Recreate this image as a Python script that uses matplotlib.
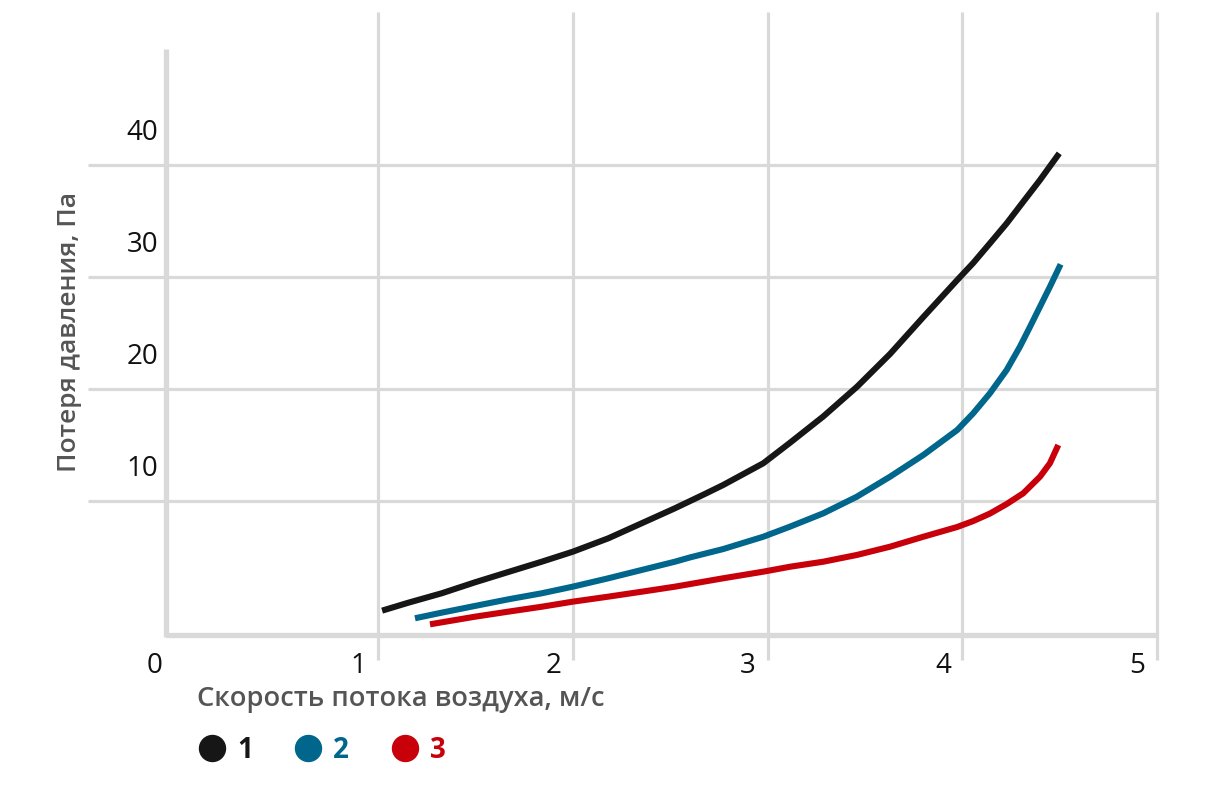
import matplotlib
matplotlib.use("Agg")
import matplotlib.pyplot as plt
from matplotlib.lines import Line2D

# ============================ #
# Data   #
# ============================ #
x_ticks = [1, 2, 3, 4, 5]
y_ticks = [10, 20, 30, 40]

speed_1 = [1.020, 1.155, 1.326, 1.497, 1.668, 1.840, 1.999, 2.182, 2.353, 2.524,
           2.678, 2.772, 2.978, 3.115, 3.286, 3.458, 3.629, 3.800, 3.974, 4.056,
           4.142, 4.228, 4.313, 4.399, 4.498]
loss_1 = [0.21, 0.92, 1.76, 2.74, 3.66, 4.58, 5.47, 6.67, 8.01, 9.35,
          10.63, 11.43, 13.37, 15.2, 17.55, 20.18, 23.13, 26.43, 29.73, 31.25,
          33.01, 34.79, 36.72, 38.66, 41.04]

speed_2 = [1.189, 1.326, 1.497, 1.668, 1.840, 1.999, 2.182, 2.353, 2.524, 2.601,
           2.772, 2.978, 3.115, 3.286, 3.458, 3.629, 3.800, 3.974, 4.056, 4.142,
           4.228, 4.296, 4.348, 4.399, 4.450, 4.505]
loss_2 = [-0.47, 0.03, 0.63, 1.22, 1.76, 2.35, 3.10, 3.84, 4.58, 4.96,
          5.71, 6.81, 7.71, 8.90, 10.38, 12.17, 14.11, 16.34, 17.83, 19.62,
          21.70, 23.78, 25.56, 27.35, 29.13, 31.13]

speed_3 = [1.266, 1.497, 1.668, 1.840, 1.999, 2.182, 2.353, 2.524, 2.772, 2.978,
           3.115, 3.286, 3.458, 3.629, 3.800, 3.974, 4.056, 4.142, 4.228, 4.313,
           4.399, 4.450, 4.493]
loss_3 = [-1.01, -0.33, 0.12, 0.56, 1.01, 1.46, 1.90, 2.35, 3.10, 3.69,
          4.13, 4.58, 5.18, 5.92, 6.81, 7.68, 8.21, 8.88, 9.73, 10.69,
          12.17, 13.37, 15.0]

series_names = ["1", "2", "3"]
series_colors = ["#161616", "#00668c", "#c8000a"]

GRID = "#d9d9d9"
LABEL_GRAY = "#555555"

plt.rcParams["font.family"] = ["Open Sans", "DejaVu Sans"]

W, H, DPI = 1213, 801, 100
fig = plt.figure(figsize=(W / DPI, H / DPI), dpi=DPI)
ax = fig.add_axes([0, 0, 1, 1])
ax.set_axis_off()

# pixel -> data mapping (x: 194.7 px per unit, 3 at px 767.6; y: 11.2 px per unit, 0 at px 613)
px_per_x, x3_px = 194.7, 767.6
px_per_y, y0_px = 11.2, 613.0
ax.set_xlim(3 - x3_px / px_per_x, 3 + (W - x3_px) / px_per_x)
ax.set_ylim((y0_px - H) / px_per_y, y0_px / px_per_y)

x_left = -0.09     # left axis line
y_bottom = -1.96   # bottom axis line

# vertical grid lines
for xv in x_ticks:
    ax.plot([xv, xv], [-4.2, 53.7], color=GRID, lw=2.3, solid_capstyle="butt", zorder=1)
# horizontal grid lines
for yv in y_ticks:
    ax.plot([-0.49, 5.0], [yv, yv], color=GRID, lw=2.3, solid_capstyle="butt", zorder=1)
# axis lines
ax.plot([x_left, x_left], [-2.1, 50.4], color=GRID, lw=3.8, solid_capstyle="butt", zorder=2)
ax.plot([x_left, 5.0], [y_bottom, y_bottom], color=GRID, lw=3.8, solid_capstyle="butt", zorder=2)

# curves
for xs, ys, c in [(speed_1, loss_1, series_colors[0]),
                  (speed_2, loss_2, series_colors[1]),
                  (speed_3, loss_3, series_colors[2])]:
    ax.plot(xs, ys, color=c, lw=4.4, solid_capstyle="butt", solid_joinstyle="round", zorder=3)

# tick labels
for yv in y_ticks:
    ax.text(-0.131, yv + 2.9, str(yv), ha="right", va="center", fontsize=20, color="#111111")
ax.text(-0.15, -4.73, "0", ha="center", va="center", fontsize=20, color="#111111")
for xv in x_ticks:
    ax.text(xv - 0.1, -4.73, str(xv), ha="center", va="center", fontsize=20, color="#111111")

# axis titles
ax.text(-0.583, 25.1, "Потеря давления, Па", rotation=90, ha="center", va="center",
        fontsize=19, fontweight="semibold", color=LABEL_GRAY)
ax.text(0.069, -8.3, "Скорость потока воздуха, м/с", ha="left", va="baseline",
        fontsize=19.6, fontweight="semibold", color=LABEL_GRAY)

# legend
handles = [Line2D([], [], marker="o", linestyle="", color=c, markersize=18.7) for c in series_colors]
leg = fig.legend(handles, series_names, loc="center left",
                 bbox_to_anchor=(198 / W, 1 - 750 / H), ncol=3, frameon=False,
                 handlelength=1.0, handletextpad=0.4, columnspacing=1.5,
                 borderpad=0, borderaxespad=0,
                 prop={"size": 20, "weight": "bold"}, labelcolor=series_colors)

fig.savefig("out.png", dpi=DPI)
